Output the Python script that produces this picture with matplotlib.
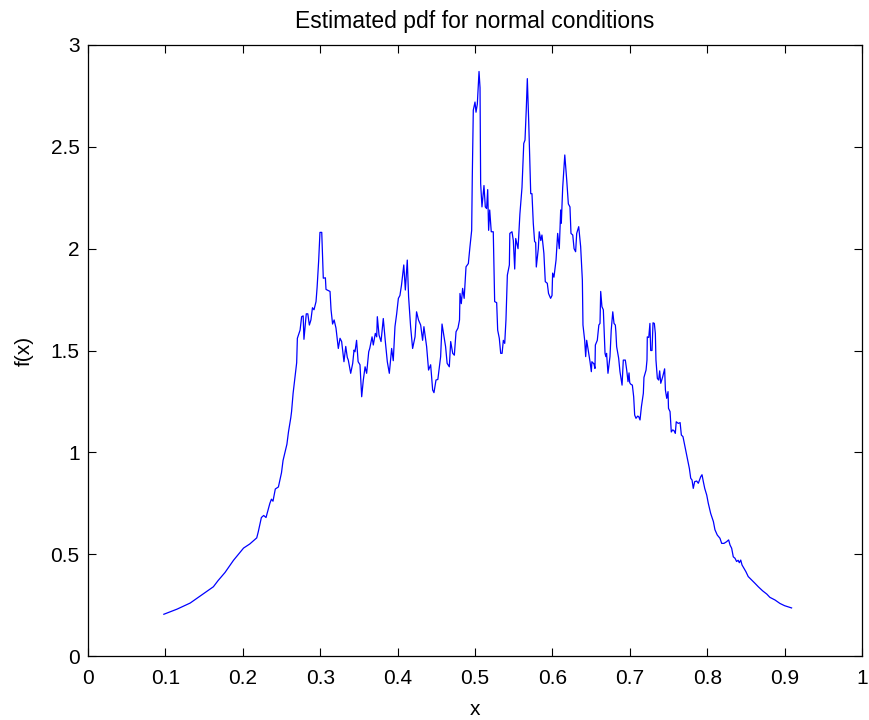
import matplotlib
matplotlib.use("Agg")
import matplotlib.pyplot as plt

x_vals = [
    0.098, 0.115, 0.132, 0.147, 0.162, 0.168, 0.177, 0.188, 0.201, 0.205,
    0.209, 0.218, 0.220, 0.224, 0.227, 0.230, 0.235, 0.237, 0.239, 0.242,
    0.246, 0.250, 0.252, 0.257, 0.259, 0.262, 0.263, 0.265, 0.2696, 0.2705,
    0.274, 0.276, 0.278, 0.279, 0.282, 0.284, 0.286, 0.288, 0.290, 0.292,
    0.2946, 0.296, 0.298, 0.2997, 0.302, 0.304, 0.3067, 0.3075, 0.3127, 0.314,
    0.316, 0.318, 0.3204, 0.3234, 0.3256, 0.3277, 0.3307, 0.333, 0.335, 0.3363,
    0.3394, 0.342, 0.3437, 0.345, 0.347, 0.349, 0.3514, 0.3536, 0.3557, 0.358,
    0.360, 0.3627, 0.364, 0.367, 0.3686, 0.3712, 0.373, 0.3738, 0.376, 0.3786,
    0.3815, 0.384, 0.3867, 0.3893, 0.3923, 0.3944, 0.3966, 0.3988, 0.401, 0.403,
    0.405, 0.408, 0.410, 0.4125, 0.4142, 0.4168, 0.4194, 0.4225, 0.4245, 0.427,
    0.4298, 0.4323, 0.434, 0.4375, 0.440, 0.4427, 0.4453, 0.447, 0.4496, 0.452,
    0.4556, 0.4574, 0.460, 0.462, 0.464, 0.4668, 0.4686, 0.4712, 0.4733, 0.4755,
    0.478, 0.480, 0.4806, 0.4823, 0.484, 0.486, 0.4884, 0.4914, 0.4935, 0.4957,
    0.4965, 0.4978, 0.500, 0.5013, 0.503, 0.5052, 0.5065, 0.5073, 0.509, 0.5116,
    0.5133, 0.515, 0.5164, 0.5176, 0.519, 0.521, 0.5236, 0.5254, 0.528, 0.5293,
    0.5314, 0.5332, 0.535, 0.5366, 0.5384, 0.540, 0.5418, 0.5444, 0.545, 0.5478,
    0.5495, 0.5513, 0.5526, 0.5556, 0.558, 0.5607, 0.563, 0.5646, 0.5663, 0.5676,
    0.5694, 0.572, 0.5736, 0.5753, 0.577, 0.5784, 0.5792, 0.5818, 0.583, 0.585,
    0.5865, 0.589, 0.5908, 0.5934, 0.595, 0.5977, 0.5995, 0.6003, 0.602, 0.6047,
    0.6068, 0.6089, 0.6107, 0.6115, 0.6133, 0.616, 0.6185, 0.6206, 0.6227, 0.624,
    0.6263, 0.628, 0.630, 0.6314, 0.634, 0.6365, 0.6387, 0.6395, 0.6417, 0.643,
    0.6443, 0.6464, 0.6486, 0.6503, 0.651, 0.6537, 0.655, 0.6555, 0.658, 0.660,
    0.6615, 0.6624, 0.664, 0.6658, 0.668, 0.669, 0.670, 0.6718, 0.6744, 0.676,
    0.678, 0.6796, 0.6813, 0.682, 0.683, 0.6856, 0.6873, 0.690, 0.6916, 0.6942,
    0.696, 0.6977, 0.699, 0.6999, 0.7011, 0.7033, 0.705, 0.7063, 0.708, 0.7102,
    0.7115, 0.7132, 0.715, 0.7175, 0.7183, 0.721, 0.7222, 0.7226, 0.7245, 0.726,
    0.727, 0.7287, 0.730, 0.7317, 0.733, 0.7338, 0.7356, 0.7373, 0.7386, 0.740,
    0.7425, 0.745, 0.746, 0.7477, 0.7494, 0.750, 0.752, 0.7536, 0.7554, 0.757,
    0.7588, 0.760, 0.7627, 0.765, 0.7666, 0.7687, 0.7713, 0.7743, 0.777, 0.7787,
    0.7804, 0.782, 0.7838, 0.7864, 0.7885, 0.790, 0.7916, 0.7933, 0.795, 0.7968,
    0.7994, 0.8014, 0.8045, 0.808, 0.810, 0.813, 0.8165, 0.8187, 0.8217, 0.825,
    0.8277, 0.8295, 0.8316, 0.8337, 0.8359, 0.838, 0.840, 0.8415, 0.8433, 0.845,
    0.8475, 0.850, 0.853, 0.8575, 0.8617, 0.866, 0.8716, 0.877, 0.881, 0.8876,
    0.894, 0.900, 0.909,
]

y_vals = [
    0.205, 0.23, 0.26, 0.30, 0.34, 0.37, 0.41, 0.47, 0.53, 0.54,
    0.55, 0.58, 0.61, 0.68, 0.69, 0.68, 0.75, 0.77, 0.76, 0.82,
    0.83, 0.90, 0.96, 1.04, 1.10, 1.17, 1.20, 1.29, 1.44, 1.56,
    1.60, 1.666, 1.67, 1.555, 1.68, 1.68, 1.625, 1.65, 1.71, 1.70,
    1.74, 1.81, 1.94, 2.08, 2.08, 1.855, 1.857, 1.80, 1.79, 1.70,
    1.63, 1.65, 1.61, 1.51, 1.56, 1.544, 1.445, 1.52, 1.466, 1.453,
    1.388, 1.437, 1.502, 1.494, 1.55, 1.445, 1.43, 1.273, 1.355, 1.42,
    1.388, 1.494, 1.51, 1.567, 1.527, 1.584, 1.567, 1.666, 1.576, 1.544,
    1.657, 1.55, 1.445, 1.388, 1.51, 1.45, 1.617, 1.68, 1.756, 1.77,
    1.82, 1.92, 1.797, 1.944, 1.764, 1.617, 1.51, 1.567, 1.69, 1.65,
    1.625, 1.55, 1.617, 1.519, 1.404, 1.43, 1.306, 1.293, 1.355, 1.358,
    1.47, 1.63, 1.567, 1.519, 1.437, 1.42, 1.544, 1.486, 1.477, 1.592,
    1.61, 1.65, 1.78, 1.73, 1.805, 1.756, 1.911, 1.927, 2.01, 2.09,
    2.353, 2.68, 2.72, 2.67, 2.71, 2.87, 2.79, 2.32, 2.205, 2.31,
    2.205, 2.197, 2.29, 2.09, 2.19, 2.083, 2.083, 1.74, 1.735, 1.60,
    1.56, 1.486, 1.486, 1.55, 1.535, 1.65, 1.87, 1.92, 2.075, 2.083,
    2.04, 1.90, 2.05, 2.00, 2.17, 2.30, 2.517, 2.533, 2.69, 2.835,
    2.623, 2.27, 2.27, 2.125, 2.035, 2.03, 1.91, 2.00, 2.083, 2.04,
    2.067, 1.977, 1.838, 1.83, 1.78, 1.756, 1.77, 1.88, 1.86, 1.944,
    2.075, 2.00, 2.19, 2.125, 2.30, 2.46, 2.337, 2.22, 2.205, 2.075,
    2.067, 2.00, 1.985, 2.075, 2.108, 2.01, 1.846, 1.625, 1.55, 1.47,
    1.55, 1.50, 1.445, 1.396, 1.445, 1.434, 1.412, 1.527, 1.55, 1.625,
    1.633, 1.79, 1.715, 1.70, 1.486, 1.47, 1.486, 1.388, 1.47, 1.60,
    1.69, 1.633, 1.625, 1.592, 1.519, 1.462, 1.396, 1.33, 1.453, 1.453,
    1.404, 1.347, 1.39, 1.342, 1.335, 1.33, 1.273, 1.183, 1.167, 1.178,
    1.175, 1.159, 1.224, 1.29, 1.368, 1.404, 1.453, 1.567, 1.564, 1.633,
    1.50, 1.50, 1.636, 1.633, 1.584, 1.453, 1.363, 1.355, 1.40, 1.339,
    1.371, 1.41, 1.306, 1.265, 1.298, 1.216, 1.20, 1.10, 1.11, 1.107,
    1.093, 1.15, 1.142, 1.146, 1.085, 1.077, 1.028, 0.97, 0.92, 0.873,
    0.864, 0.823, 0.856, 0.859, 0.848, 0.864, 0.88, 0.89, 0.856, 0.823,
    0.79, 0.75, 0.70, 0.66, 0.62, 0.594, 0.578, 0.553, 0.553, 0.561,
    0.57, 0.545, 0.529, 0.487, 0.48, 0.464, 0.47, 0.458, 0.471, 0.447,
    0.43, 0.414, 0.39, 0.373, 0.357, 0.34, 0.32, 0.304, 0.288, 0.275,
    0.258, 0.247, 0.236,
]

x_ticks = [0, 0.1, 0.2, 0.3, 0.4, 0.5, 0.6, 0.7, 0.8, 0.9, 1]
x_tick_labels = ["0", "0.1", "0.2", "0.3", "0.4", "0.5", "0.6", "0.7", "0.8", "0.9", "1"]
y_ticks = [0, 0.5, 1, 1.5, 2, 2.5, 3]
y_tick_labels = ["0", "0.5", "1", "1.5", "2", "2.5", "3"]

plt.rcParams['font.family'] = ['Liberation Sans', 'DejaVu Sans']

fig = plt.figure(figsize=(8.7, 7.2), dpi=100)
ax = fig.add_axes([88 / 870, 64 / 720, 774 / 870, 611 / 720])

ax.plot(x_vals, y_vals, color=(0, 0, 1), linewidth=0.9)

ax.set_xlim(0, 1)
ax.set_ylim(0, 3)
ax.set_xticks(x_ticks)
ax.set_xticklabels(x_tick_labels)
ax.set_yticks(y_ticks)
ax.set_yticklabels(y_tick_labels)

ax.tick_params(direction='in', length=5.8, width=0.8, top=True, right=True,
               labelsize=15, colors='black')
ax.tick_params(axis='x', pad=9)
ax.tick_params(axis='y', pad=6)
for sp in ax.spines.values():
    sp.set_linewidth(0.9)
    sp.set_color('black')

ax.set_title("Estimated pdf for normal conditions", fontsize=16.5, pad=12)
ax.set_xlabel("x", fontsize=15, labelpad=9)
ax.set_ylabel("f(x)", fontsize=15, labelpad=12)

fig.savefig("out.png", dpi=100, facecolor='white')
